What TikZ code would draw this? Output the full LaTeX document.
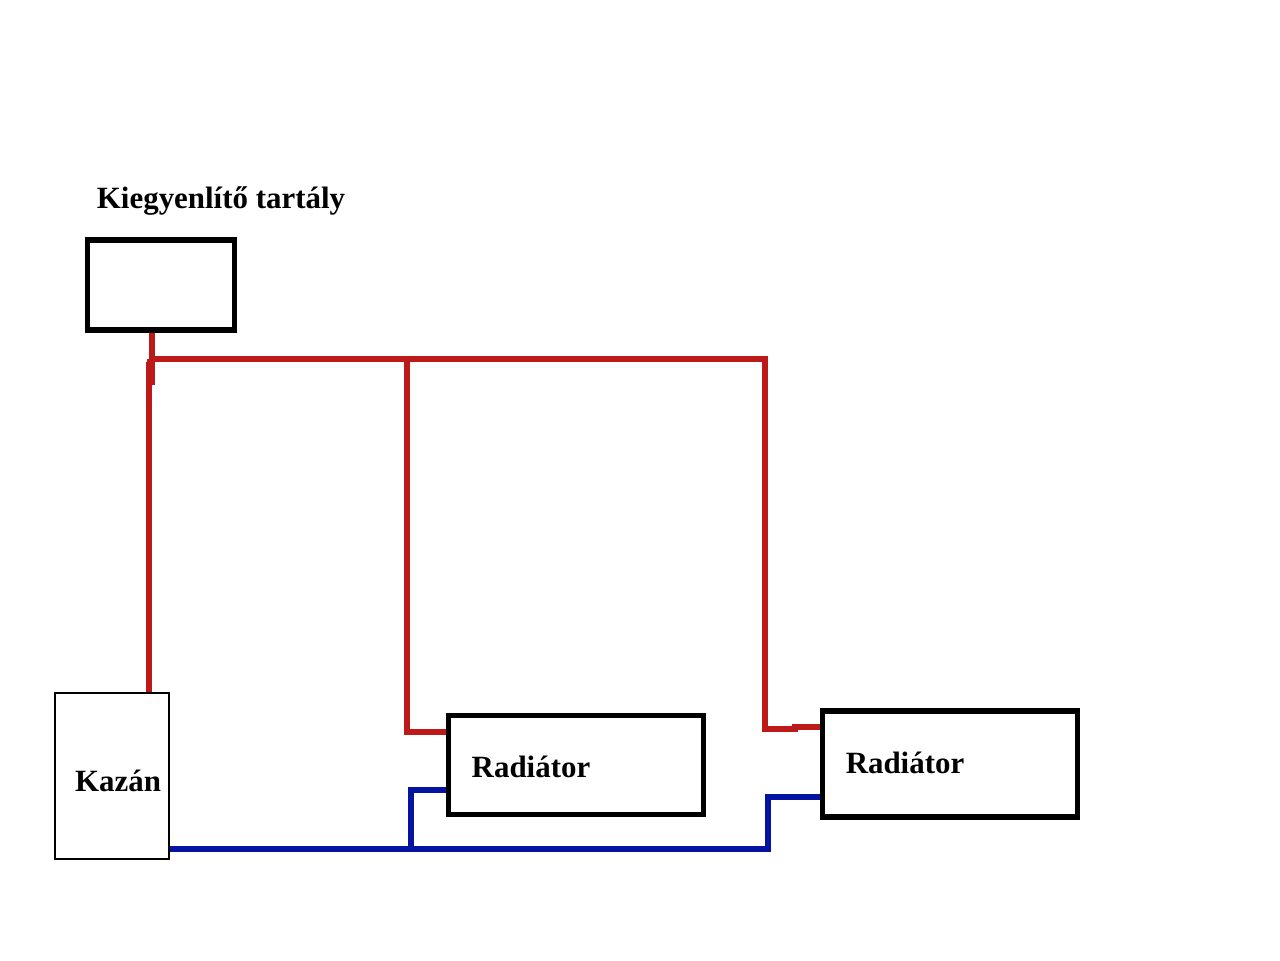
\documentclass[tikz,border=0pt]{standalone}
\usepackage{fontspec}
\setmainfont{Liberation Serif}
\begin{document}
\begin{tikzpicture}[
    x=0.02cm, y=-0.02cm,
    every node/.style={font=\fontsize{17.6}{20}\selectfont\bfseries},
    tankbox/.style={draw=black, line width=3pt, fill=white, inner sep=0pt},
    boilerbox/.style={draw=black, line width=0.9pt, fill=white, inner sep=0pt},
    hotpipe/.style={draw=hotred, line width=2.9pt},
    coldpipe/.style={draw=coldblue, line width=2.9pt}
]
    \definecolor{hotred}{RGB}{190,25,25}
    \definecolor{coldblue}{RGB}{5,20,160}

    \useasboundingbox (0,0) rectangle (1280,960);

    % boxes
    \node (tank) [tankbox, minimum width=2.94cm, minimum height=1.8cm] at (161,285) {};
    \node (boiler) [boilerbox, minimum width=2.28cm, minimum height=3.32cm] at (112,776) {};
    \node (radone) [tankbox, minimum width=5.1cm, minimum height=1.98cm] at (576,765) {};
    \node (radtwo) [tankbox, minimum width=5.1cm, minimum height=2.12cm] at (950,764) {};

    % labels
    \node (tanklabel) at (221,201) {Kiegyenlítő tartály};
    \node (boilerlabel) at (118,781) {Kazán};
    \node (radonelabel) at (531,767) {Radiátor};
    \node (radtwolabel) at (905,763) {Radiátor};

    % junctions
    \coordinate (teetank) at (152,359);
    \coordinate (teeone) at (407,359);
    \coordinate (teetwo) at (765,359);
    \coordinate (teereturnone) at (411,849);
    \coordinate (teereturntwo) at (768,849);
    \coordinate (stubend) at (151,385);

    % hot side
    \draw [hotpipe] (tank.south -| teetank) -- (teetank);
    \draw [hotpipe, line width=4pt] (teetank -| stubend) -- (stubend);
    \draw [hotpipe] (boiler.north -| 149,0) -- (149,362);
    \draw [hotpipe] (149,359) -- (teetwo) -- (765,729) -- (795,729) -- (795,727) -- (radtwo.west |- 0,727);
    \draw [hotpipe] (teeone) -- (407,732) -- (radone.west |- 0,732);

    % cold side
    \draw [coldpipe] (boiler.east |- 0,849) -- (teereturntwo) -- (768,797) -- (radtwo.west |- 0,797);
    \draw [coldpipe] (teereturnone) -- (411,790) -- (radone.west |- 0,790);

\end{tikzpicture}
\end{document}
